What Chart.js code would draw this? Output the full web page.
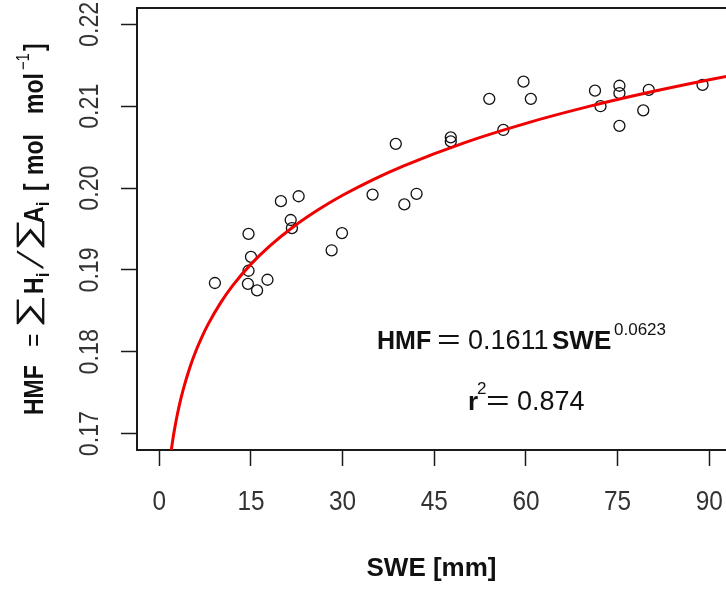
<!DOCTYPE html>
<html>
<head>
<meta charset="utf-8">
<script src="https://cdn.jsdelivr.net/npm/chart.js@4.4.1/dist/chart.umd.min.js"></script>
<style>
html, body { margin: 0; padding: 0; background: #fff; overflow: hidden; }
canvas { display: block; }
</style>
</head>
<body>
<canvas id="hmfChart" width="726" height="589"></canvas>
<script>
// ==========================
// DATA
// ==========================
// snow water equivalent [mm] for each plot
const sweValues = [9.1, 14.6, 15.0, 14.6, 14.5, 16.0, 17.7, 19.9, 22.8, 21.5, 21.7, 28.2, 29.9, 34.9,
    38.7, 40.1, 42.1, 47.7, 47.7, 54.0, 56.3, 59.6, 60.8, 71.3, 72.2, 75.3, 75.3, 75.3, 79.2, 80.1, 88.9];
// matching HMF values [mol mol-1]
const hmfValues = [0.1884, 0.1944, 0.1916, 0.1899, 0.1883, 0.1875, 0.1888, 0.1984, 0.1990, 0.1961, 0.1951, 0.1924, 0.1945, 0.1992,
    0.2054, 0.1980, 0.1993, 0.2062, 0.2057, 0.2109, 0.2071, 0.2130, 0.2109, 0.2119, 0.2100, 0.2125, 0.2116, 0.2076, 0.2095, 0.2120, 0.2126];

// power fit HMF = a * SWE^b
const fitA = 0.1611;
const fitB = 0.0623;
const fitR2 = 0.874;
// SWE positions where the fitted curve is evaluated
const fitSwe = [1.5, 1.75, 2, 2.25, 2.5, 3, 3.5, 4, 5, 6, 7, 8, 10, 12, 15, 18, 22, 26, 30, 35, 40, 50, 60, 70, 80, 90, 95];

const xTicks = [0, 15, 30, 45, 60, 75, 90];
const yTicks = [0.17, 0.18, 0.19, 0.20, 0.21, 0.22];

const FONT = '"Liberation Sans", Arial, sans-serif';
const INK = '#1a1a1a';

const points = sweValues.map((v, i) => ({ x: v, y: hmfValues[i] }));
const fitLine = fitSwe.map(v => ({ x: v, y: fitA * Math.pow(v, fitB) }));

// ==========================
// TEXT HELPERS
// ==========================
function squeezed(ctx, text, x, y, font, sx){
    ctx.save();
    ctx.font = font;
    ctx.translate(x, y);
    ctx.scale(sx, 1);
    ctx.fillText(text, 0, 0);
    ctx.restore();
}

// y axis title, written bottom to top
const yTitle = [
    { t: 'HMF', f: 'bold 28px ' + FONT, at: 0 },
    { t: '=', f: '28px ' + FONT, at: 68 },
    { t: '\u2211', f: '31px ' + FONT, at: 87, dy: -5, sx: 1.5 },
    { t: 'H', f: 'bold 28px ' + FONT, at: 121 },
    { t: 'i', f: 'bold 19px ' + FONT, at: 138, dy: 6 },
    { t: '/', f: '36px ' + FONT, at: 146, slant: 0.4 },
    { t: '\u2211', f: '31px ' + FONT, at: 164, dy: -5, sx: 1.5 },
    { t: 'A', f: 'bold 28px ' + FONT, at: 192 },
    { t: 'i', f: 'bold 19px ' + FONT, at: 209, dy: 6 },
    { t: '[', f: 'bold 28px ' + FONT, at: 224 },
    { t: 'mol', f: 'bold 28px ' + FONT, at: 240 },
    { t: 'mol', f: 'bold 28px ' + FONT, at: 301 },
    { t: '\u22121', f: '18px ' + FONT, at: 345, dy: -14 },
    { t: ']', f: 'bold 28px ' + FONT, at: 364 }
];

const boxAndLabels = {
    id: 'boxAndLabels',
    afterDraw(chart){
        const { ctx, chartArea, scales: { x, y } } = chart;
        ctx.save();

        // top edge of the box
        ctx.strokeStyle = INK;
        ctx.lineWidth = 2;
        ctx.beginPath();
        ctx.moveTo(chartArea.left, chartArea.top);
        ctx.lineTo(chartArea.right, chartArea.top);
        ctx.stroke();

        // tick labels
        ctx.fillStyle = '#333';
        ctx.textAlign = 'center';
        ctx.textBaseline = 'alphabetic';
        x.ticks.forEach(t => {
            squeezed(ctx, String(t.value), x.getPixelForValue(t.value), 510, '28px ' + FONT, 0.87);
        });
        y.ticks.forEach(t => {
            ctx.save();
            ctx.translate(98, y.getPixelForValue(t.value));
            ctx.rotate(-Math.PI / 2);
            squeezed(ctx, t.value.toFixed(2), 0, 0, '28px ' + FONT, 0.83);
            ctx.restore();
        });

        // y title
        ctx.fillStyle = '#111';
        ctx.textAlign = 'left';
        ctx.save();
        ctx.translate(43, 415);
        ctx.rotate(-Math.PI / 2);
        yTitle.forEach(p => {
            ctx.save();
            ctx.translate(p.at, p.dy || 0);
            if(p.slant) ctx.transform(1, 0, -p.slant, 1, 0, 0);
            squeezed(ctx, p.t, 0, 0, p.f, p.sx || 0.82);
            ctx.restore();
        });
        ctx.restore();

        // fit equation
        const big = '27px ' + FONT;
        const bold = 'bold 26px ' + FONT;
        const small = '17px ' + FONT;
        ctx.font = 'bold 25px ' + FONT; ctx.fillText('HMF', 377, 349);
        squeezed(ctx, '=', 437, 349, big, 1.5);
        ctx.font = big; ctx.fillText(fitA.toFixed(4), 468, 349);
        ctx.font = bold; ctx.fillText('SWE', 552, 349);
        ctx.font = small; ctx.fillText(fitB.toFixed(4), 614, 335);

        ctx.font = bold; ctx.fillText('r', 468, 410);
        ctx.font = small; ctx.fillText('2', 477, 394);
        squeezed(ctx, '=', 486, 410, big, 1.5);
        ctx.font = big; ctx.fillText(fitR2.toFixed(3), 517, 410);

        ctx.restore();
    }
};

// ==========================
// CHART
// ==========================
const axisGrid = {
    display: true,
    drawOnChartArea: false,
    drawTicks: true,
    tickLength: 16,
    tickWidth: 1.5,
    tickColor: INK,
    color: INK
};

new Chart(document.getElementById('hmfChart'), {
    type: 'scatter',
    data: {
        datasets: [
            {
                label: 'fit',
                data: fitLine,
                showLine: true,
                borderColor: '#f00000',
                borderWidth: 3,
                pointRadius: 0,
                cubicInterpolationMode: 'monotone'
            },
            {
                label: 'HMF',
                data: points,
                pointStyle: 'circle',
                pointRadius: 5.5,
                pointBorderWidth: 1.3,
                borderColor: '#111',
                backgroundColor: 'rgba(0,0,0,0)'
            }
        ]
    },
    options: {
        responsive: false,
        animation: false,
        devicePixelRatio: 1,
        layout: { autoPadding: false, padding: { top: 8, left: 0, right: 0, bottom: 0 } },
        plugins: {
            legend: { display: false },
            tooltip: { enabled: false }
        },
        scales: {
            x: {
                type: 'linear',
                min: -3.65,
                max: 92.74,
                afterBuildTicks: s => { s.ticks = xTicks.map(v => ({ value: v })); },
                afterFit: s => { s.height = 139; s.paddingLeft = 0; s.paddingRight = 0; },
                ticks: { display: false },
                grid: axisGrid,
                border: { display: true, color: INK, width: 2 },
                title: {
                    display: true,
                    text: 'SWE [mm]',
                    color: '#111',
                    font: { family: FONT, size: 26, weight: 'bold' },
                    padding: { top: 0, bottom: 5 }
                }
            },
            y: {
                type: 'linear',
                min: 0.168,
                max: 0.222,
                afterBuildTicks: s => { s.ticks = yTicks.map(v => ({ value: v })); },
                afterFit: s => { s.width = 137; s.paddingTop = 0; s.paddingBottom = 0; },
                ticks: { display: false },
                grid: axisGrid,
                border: { display: true, color: INK, width: 2 }
            }
        }
    },
    plugins: [boxAndLabels]
});
</script>
</body>
</html>
